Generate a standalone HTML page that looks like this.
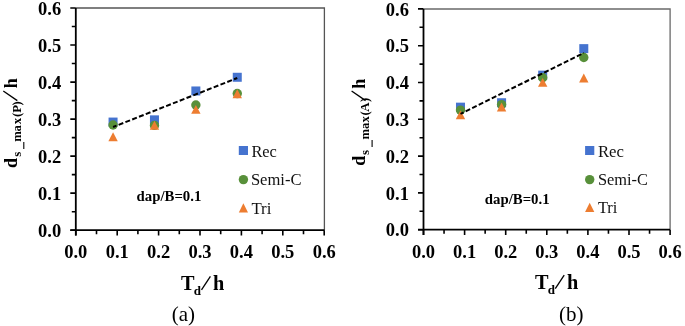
<!DOCTYPE html>
<html><head><meta charset="utf-8"><style>
html,body{margin:0;padding:0;background:#fff;}
svg{display:block;will-change:transform;}
text{font-family:"Liberation Serif",serif;fill:#000;}
.tl{font-size:18.5px;font-weight:bold;}
.lg{font-size:17.6px;fill:#111;}
.dap{font-size:14.8px;font-weight:bold;}
.ti{font-size:20.3px;font-weight:bold;}
.sub2{font-size:13px;font-weight:bold;}
.yt{font-size:18px;font-weight:bold;}
.ysub{font-size:12.8px;font-weight:bold;}
.pn{font-size:21px;}
</style></head><body>
<svg width="685" height="326" viewBox="0 0 685 326">
<path d="M75.8 8H324.4V230.2" fill="none" stroke="#555" stroke-width="1.3"/>
<path d="M75.8 8V235.5M70.3 230.2H324.4" fill="none" stroke="#000" stroke-width="1.8"/>
<path d="M70.30 230.20H75.8M71.80 211.69H75.8M70.30 193.17H75.8M71.80 174.65H75.8M70.30 156.14H75.8M71.80 137.62H75.8M70.30 119.11H75.8M71.80 100.59H75.8M70.30 82.08H75.8M71.80 63.56H75.8M70.30 45.05H75.8M71.80 26.53H75.8M70.30 8.02H75.8M75.80 230.2V235.50M96.50 230.2V234.20M117.20 230.2V235.50M137.90 230.2V234.20M158.60 230.2V235.50M179.30 230.2V234.20M200.00 230.2V235.50M220.70 230.2V234.20M241.40 230.2V235.50M262.10 230.2V234.20M282.80 230.2V235.50M303.50 230.2V234.20M324.20 230.2V235.50" stroke="#000" stroke-width="1.6"/>
<text x="61.20" y="236.80" class="tl" text-anchor="end">0.0</text>
<text x="61.20" y="199.77" class="tl" text-anchor="end">0.1</text>
<text x="61.20" y="162.74" class="tl" text-anchor="end">0.2</text>
<text x="61.20" y="125.71" class="tl" text-anchor="end">0.3</text>
<text x="61.20" y="88.68" class="tl" text-anchor="end">0.4</text>
<text x="61.20" y="51.65" class="tl" text-anchor="end">0.5</text>
<text x="61.20" y="14.62" class="tl" text-anchor="end">0.6</text>
<text x="75.80" y="258.3" class="tl" text-anchor="middle">0.0</text>
<text x="117.20" y="258.3" class="tl" text-anchor="middle">0.1</text>
<text x="158.60" y="258.3" class="tl" text-anchor="middle">0.2</text>
<text x="200.00" y="258.3" class="tl" text-anchor="middle">0.3</text>
<text x="241.40" y="258.3" class="tl" text-anchor="middle">0.4</text>
<text x="282.80" y="258.3" class="tl" text-anchor="middle">0.5</text>
<text x="324.20" y="258.3" class="tl" text-anchor="middle">0.6</text>
<rect x="108.56" y="117.57" width="9" height="9" fill="#4573CF"/>
<rect x="149.96" y="115.35" width="9" height="9" fill="#4573CF"/>
<rect x="191.36" y="86.47" width="9" height="9" fill="#4573CF"/>
<rect x="232.76" y="72.77" width="9" height="9" fill="#4573CF"/>
<circle cx="113.06" cy="125.03" r="4.7" fill="#58903A"/>
<circle cx="154.46" cy="125.41" r="4.7" fill="#58903A"/>
<circle cx="195.86" cy="105.04" r="4.7" fill="#58903A"/>
<circle cx="237.26" cy="93.56" r="4.7" fill="#58903A"/>
<path d="M113.06 132.28L117.76 141.18H108.36Z" fill="#ED7D31"/>
<path d="M154.46 120.81L159.16 129.71H149.76Z" fill="#ED7D31"/>
<path d="M195.86 104.88L200.56 113.78H191.16Z" fill="#ED7D31"/>
<path d="M237.26 89.33L241.96 98.23H232.56Z" fill="#ED7D31"/>
<path d="M113.06 127.03L237.26 78.04" stroke="#000" stroke-width="2" stroke-dasharray="5 2.3" stroke-dashoffset="1.33" fill="none"/>
<rect x="238.80" y="146" width="9.2" height="9" fill="#4573CF"/>
<text x="251.40" y="156.7" class="lg" textLength="25.5" lengthAdjust="spacingAndGlyphs">Rec</text>
<circle cx="243.40" cy="179.6" r="4.7" fill="#58903A"/>
<text x="250.90" y="184.8" class="lg" textLength="50.6" lengthAdjust="spacingAndGlyphs">Semi-C</text>
<path d="M243.40 203.30L248.00 212.40H238.80Z" fill="#ED7D31"/>
<text x="251.40" y="213.6" class="lg" textLength="20" lengthAdjust="spacingAndGlyphs">Tri</text>
<text x="136.60" y="201" class="dap">dap/B=0.1</text>
<text x="181.10" y="290" class="ti">T<tspan class="sub2" dx="-0.8" dy="4.7">d</tspan></text>
<path d="M201.50 289.8L210.40 276.3" stroke="#000" stroke-width="1.3"/>
<text x="213.10" y="290" class="ti">h</text>
<text x="183.30" y="320.5" class="pn" text-anchor="middle">(a)</text>
<g transform="translate(0.00 0) rotate(-90) scale(1.0 1)">
<text x="-168.07" y="16.6" class="yt">d</text>
<text x="-88.29" y="16.6" class="yt">h</text>
</g>
<g transform="translate(0.00 0) rotate(-90) scale(1.0 1)">
<text x="-156.73 -148.70 -141.80 -131.61 -124.19 -116.91 -112.74 -105.55" y="20.8" class="ysub">s max(P)</text>
</g>
<path d="M23.80 141.90V149.10" stroke="#000" stroke-width="1.1"/>
<path d="M17.30 100.6L3.30 91" stroke="#000" stroke-width="1.3"/>
<path d="M423.5 9H670.1V229.7" fill="none" stroke="#6a6a6a" stroke-width="1.3"/>
<path d="M423.5 9V235.0M418.0 229.7H670.1" fill="none" stroke="#000" stroke-width="1.8"/>
<path d="M418.00 229.70H423.5M419.50 211.30H423.5M418.00 192.90H423.5M419.50 174.50H423.5M418.00 156.10H423.5M419.50 137.70H423.5M418.00 119.30H423.5M419.50 100.90H423.5M418.00 82.50H423.5M419.50 64.10H423.5M418.00 45.70H423.5M419.50 27.30H423.5M418.00 8.90H423.5M423.50 229.7V235.00M444.05 229.7V233.70M464.60 229.7V235.00M485.15 229.7V233.70M505.70 229.7V235.00M526.25 229.7V233.70M546.80 229.7V235.00M567.35 229.7V233.70M587.90 229.7V235.00M608.45 229.7V233.70M629.00 229.7V235.00M649.55 229.7V233.70M670.10 229.7V235.00" stroke="#000" stroke-width="1.6"/>
<text x="408.90" y="236.30" class="tl" text-anchor="end">0.0</text>
<text x="408.90" y="199.50" class="tl" text-anchor="end">0.1</text>
<text x="408.90" y="162.70" class="tl" text-anchor="end">0.2</text>
<text x="408.90" y="125.90" class="tl" text-anchor="end">0.3</text>
<text x="408.90" y="89.10" class="tl" text-anchor="end">0.4</text>
<text x="408.90" y="52.30" class="tl" text-anchor="end">0.5</text>
<text x="408.90" y="15.50" class="tl" text-anchor="end">0.6</text>
<text x="423.50" y="258.3" class="tl" text-anchor="middle">0.0</text>
<text x="464.60" y="258.3" class="tl" text-anchor="middle">0.1</text>
<text x="505.70" y="258.3" class="tl" text-anchor="middle">0.2</text>
<text x="546.80" y="258.3" class="tl" text-anchor="middle">0.3</text>
<text x="587.90" y="258.3" class="tl" text-anchor="middle">0.4</text>
<text x="629.00" y="258.3" class="tl" text-anchor="middle">0.5</text>
<text x="670.10" y="258.3" class="tl" text-anchor="middle">0.6</text>
<rect x="455.99" y="102.66" width="9" height="9" fill="#4573CF"/>
<rect x="497.09" y="98.24" width="9" height="9" fill="#4573CF"/>
<rect x="538.19" y="70.64" width="9" height="9" fill="#4573CF"/>
<rect x="579.29" y="44.14" width="9" height="9" fill="#4573CF"/>
<circle cx="460.49" cy="110.10" r="4.7" fill="#58903A"/>
<circle cx="501.59" cy="104.58" r="4.7" fill="#58903A"/>
<circle cx="542.69" cy="77.72" r="4.7" fill="#58903A"/>
<circle cx="583.79" cy="57.48" r="4.7" fill="#58903A"/>
<path d="M460.49 110.28L465.19 119.18H455.79Z" fill="#ED7D31"/>
<path d="M501.59 102.56L506.29 111.46H496.89Z" fill="#ED7D31"/>
<path d="M542.69 77.90L547.39 86.80H537.99Z" fill="#ED7D31"/>
<path d="M583.79 73.48L588.49 82.38H579.09Z" fill="#ED7D31"/>
<path d="M460.49 113.89L583.79 52.95" stroke="#000" stroke-width="2" stroke-dasharray="5 2.3" stroke-dashoffset="1.56" fill="none"/>
<rect x="585.10" y="146" width="9.2" height="9" fill="#4573CF"/>
<text x="597.90" y="156.6" class="lg" textLength="26" lengthAdjust="spacingAndGlyphs">Rec</text>
<circle cx="589.70" cy="179.6" r="4.7" fill="#58903A"/>
<text x="597.90" y="184.7" class="lg" textLength="50" lengthAdjust="spacingAndGlyphs">Semi-C</text>
<path d="M589.70 202.80L594.30 211.90H585.10Z" fill="#ED7D31"/>
<text x="597.90" y="212.6" class="lg" textLength="19.5" lengthAdjust="spacingAndGlyphs">Tri</text>
<text x="484.80" y="203.6" class="dap">dap/B=0.1</text>
<text x="534.90" y="288.9" class="ti">T<tspan class="sub2" dx="-0.8" dy="4.7">d</tspan></text>
<path d="M555.30 288.7L564.20 275.2" stroke="#000" stroke-width="1.3"/>
<text x="566.90" y="288.9" class="ti">h</text>
<text x="571.30" y="320.5" class="pn" text-anchor="middle">(b)</text>
<g transform="translate(348.30 0) rotate(-90) scale(1.0 1)">
<text x="-165.67" y="16.6" class="yt">d</text>
<text x="-88.69" y="16.6" class="yt">h</text>
</g>
<g transform="translate(348.30 0) rotate(-90) scale(1.0 1)">
<text x="-155.03 -146.70 -139.50 -129.11 -122.59 -115.61 -111.64 -102.05" y="20.8" class="ysub">s max(A)</text>
</g>
<path d="M372.10 139.90V147.10" stroke="#000" stroke-width="1.1"/>
<path d="M365.60 100.6L351.60 91" stroke="#000" stroke-width="1.3"/>
</svg>
</body></html>
